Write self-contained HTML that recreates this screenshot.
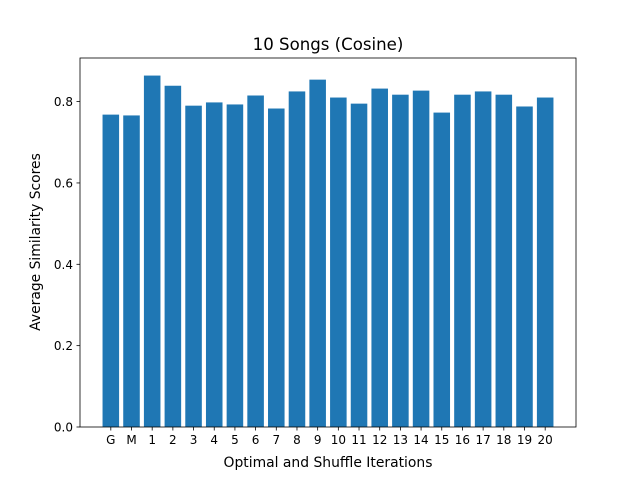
<!DOCTYPE html>
<html><head><meta charset="utf-8"><style>
body{margin:0;background:#fff;}
svg text{font-family:"DejaVu Sans","Liberation Sans",sans-serif;fill:#000;}
</style></head><body>
<svg id="chart" width="640" height="480">
<rect width="640" height="480" fill="#fff"/>
<text x="328" y="50" font-size="16.6" text-anchor="middle">10 Songs (Cosine)</text>
<text x="328" y="467" font-size="13.9" text-anchor="middle">Optimal and Shuffle Iterations</text>
<text transform="translate(40,242) rotate(-90)" font-size="13.9" text-anchor="middle">Average Similarity Scores</text>
<g id="bars"></g><g id="axes"></g>
</svg>
<script>
const categories=["G","M","1","2","3","4","5","6","7","8","9","10","11","12","13","14","15","16","17","18","19","20"];
const values=[0.768,0.766,0.864,0.839,0.790,0.798,0.793,0.815,0.783,0.825,0.854,0.810,0.795,0.832,0.817,0.827,0.773,0.817,0.825,0.817,0.788,0.810];
const yTicks=[0,0.2,0.4,0.6,0.8];
const yTickLabels=["0.0","0.2","0.4","0.6","0.8"];
const L=80,R=576,T=58,B=427;
const n=categories.length;
const xmin=-0.4-0.05*(n-1+0.8), xmax=n-1+0.4+0.05*(n-1+0.8);
const ymax=Math.max(...values)*1.05;
const x=v=>L+(v-xmin)/(xmax-xmin)*(R-L);
const y=v=>B-v/ymax*(B-T);
const NS="http://www.w3.org/2000/svg";
const bars=document.getElementById('bars'),axes=document.getElementById('axes');
function mk(tag,attrs,parent){const e=document.createElementNS(NS,tag);for(const k in attrs)e.setAttribute(k,attrs[k]);parent.appendChild(e);return e;}
values.forEach((v,i)=>{
 const r=mk('rect',{x:x(i-0.4),y:y(v),width:x(i+0.4)-x(i-0.4),height:B-y(v),fill:'#1f77b4'},bars);
 
 
 mk('line',{x1:x(i),x2:x(i),y1:B,y2:B+3.5,stroke:'#000','stroke-width':0.8},axes);
 const t=mk('text',{x:x(i),y:B+17,'font-size':12,'text-anchor':'middle'},axes);
 t.textContent=categories[i];
 
 
});
yTicks.forEach((v,i)=>{
 mk('line',{x1:L-3.5,x2:L,y1:y(v),y2:y(v),stroke:'#000','stroke-width':0.8},axes);
 const t=mk('text',{x:L-7,y:y(v)+4.5,'font-size':12,'text-anchor':'end'},axes);
 t.textContent=yTickLabels[i];
 
 
});
const f=mk('rect',{x:L,y:T,width:R-L,height:B-T,fill:'none',stroke:'#000','stroke-width':0.8},axes);


</script>
</body></html>
